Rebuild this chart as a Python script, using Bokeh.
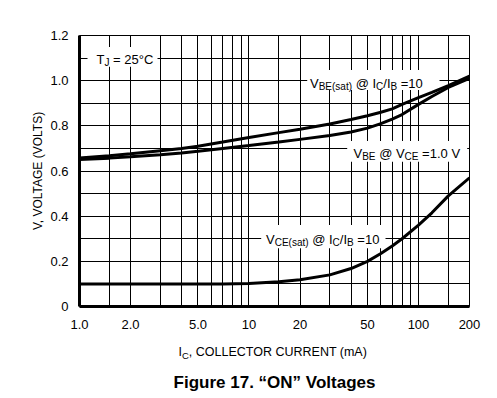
import numpy as np
from bokeh.plotting import figure
from bokeh.layouts import column
from bokeh.models import FixedTicker, Label, BoxAnnotation, Range1d
from bokeh.core.properties import value
from bokeh.embed import file_html
from bokeh.resources import INLINE

# ---------------- data ----------------
ic = [1, 1.5, 2, 3, 4, 5, 7, 10, 15, 20, 30, 40, 50, 60, 70, 80, 100, 120, 150, 200]
vbe_sat = [0.658, 0.668, 0.676, 0.690, 0.700, 0.710, 0.728, 0.748, 0.770, 0.785,
           0.808, 0.828, 0.845, 0.860, 0.875, 0.895, 0.925, 0.948, 0.978, 1.020]
vbe = [0.651, 0.657, 0.663, 0.672, 0.680, 0.687, 0.700, 0.713, 0.728, 0.740,
       0.757, 0.773, 0.790, 0.810, 0.830, 0.850, 0.895, 0.930, 0.970, 1.010]
vce_sat = [0.100, 0.100, 0.100, 0.100, 0.100, 0.100, 0.100, 0.102, 0.110, 0.118,
           0.140, 0.168, 0.200, 0.235, 0.268, 0.300, 0.360, 0.415, 0.490, 0.570]

x_ticks = [1, 2, 5, 10, 20, 50, 100, 200]
x_tick_labels = ["1.0", "2.0", "5.0", "10", "20", "50", "100", "200"]
x_grid = [1, 1.5, 2, 3, 4, 5, 6, 7, 8, 9, 10, 15, 20, 30, 40, 50, 60, 70, 80, 90, 100, 150, 200]
y_ticks = [0, 0.2, 0.4, 0.6, 0.8, 1.0, 1.2]
y_tick_labels = ["0", "0.2", "0.4", "0.6", "0.8", "1.0", "1.2"]
y_grid = [0, 0.1, 0.2, 0.3, 0.4, 0.5, 0.6, 0.7, 0.8, 0.9, 1.0, 1.1, 1.2]

# ---------------- layout ----------------
W = 490
BL, BT, FW, FH = 79, 35, 390, 274
BB = 22
H1 = BT + FH + BB          # main figure height (331)
H2 = 62                    # caption strip height
FONT = "Liberation Sans"

# Arial / Liberation Sans advance widths (per em) for laying out sub-scripted text
ADV = {" ": .278, "(": .333, ")": .333, ",": .278, ".": .278, "/": .278, "=": .584,
       "@": 1.015, "\u00b0": .400, "A": .667, "B": .667, "C": .722, "E": .667, "I": .278,
       "J": .500, "L": .556, "N": .722, "O": .778, "R": .722, "T": .611, "U": .722,
       "V": .667, "a": .556, "m": .833, "s": .500, "t": .278}


def tw(s, size):
    return sum(ADV.get(ch, .556) for ch in s) * size


p = figure(width=W, height=H1, x_axis_type="log",
           x_range=Range1d(1, 200), y_range=Range1d(0, 1.2),
           output_backend="svg", toolbar_location=None,
           min_border_left=BL, min_border_right=W - BL - FW,
           min_border_top=BT, min_border_bottom=BB)
p.background_fill_color = "white"
p.border_fill_color = "white"
p.outline_line_color = "black"
p.outline_line_width = 1

for ax in (p.xaxis[0], p.yaxis[0]):
    ax.axis_line_width = 3
    ax.axis_line_color = "black"
    ax.major_tick_line_color = None
    ax.minor_tick_line_color = None
    ax.major_label_text_font = FONT
    ax.major_label_text_font_size = "13px"
    ax.major_label_text_color = "black"

p.xaxis.ticker = FixedTicker(ticks=x_ticks)
p.xaxis.major_label_overrides = {t: l for t, l in zip(x_ticks, x_tick_labels)}
p.xaxis.major_label_standoff = 7
p.yaxis.ticker = FixedTicker(ticks=y_ticks)
p.yaxis.major_label_overrides = {t: l for t, l in zip(y_ticks, y_tick_labels)}
p.yaxis.major_label_standoff = 5
p.yaxis.axis_label = "V, VOLTAGE (VOLTS)"
p.yaxis.axis_label_text_font = FONT
p.yaxis.axis_label_text_font_size = "12px"
p.yaxis.axis_label_text_font_style = "normal"
p.yaxis.axis_label_text_color = "black"
p.yaxis.axis_label_standoff = 2

p.xgrid.ticker = FixedTicker(ticks=x_grid)
p.ygrid.ticker = FixedTicker(ticks=y_grid)
for g in (p.xgrid[0], p.ygrid[0]):
    g.grid_line_color = "black"
    g.grid_line_width = 1
    g.grid_line_alpha = 1

# page-pixel helpers (frame left / bottom on the page)
FL, FB = BL, BT + FH
LOGMAX = np.log10(200)


def px2x(px):
    return 10 ** ((px - FL) / FW * LOGMAX)


def py2y(py):
    return (FB - py) / FH * 1.2


def box(x0, x1, y0, y1):
    p.add_layout(BoxAnnotation(left=px2x(x0), right=px2x(x1), top=py2y(y0), bottom=py2y(y1),
                               fill_color="white", fill_alpha=1, line_alpha=0,
                               level="underlay"))


def rich(segs, x0, base, M, S, dsub=3):
    """segs: list of (text, is_sub); laid out left to right from page x0, baseline base."""
    x = x0
    for s, sub in segs:
        size = S if sub else M
        lead = len(s) - len(s.lstrip(" "))
        x += tw(" " * lead, size)
        s = s.lstrip(" ")
        p.add_layout(Label(x=1, y=0, x_offset=x - FL, y_offset=FB - (base + (dsub if sub else 0)),
                           text=s, text_font=FONT, text_font_size=f"{size}px",
                           text_color="black", text_align="left", text_baseline="alphabetic"))
        x += tw(s, size)


# white boxes behind the in-plot labels
box(87, 157, 46.7, 66.7)
box(306.7, 439, 70, 90)
box(346.7, 466.7, 141.7, 162.7)
box(260.7, 385, 226.7, 250)

# curves
p.line(ic, vbe_sat, line_color="black", line_width=3)
p.line(ic, vbe, line_color="black", line_width=3)
p.line(ic, vce_sat, line_color="black", line_width=3)

M, S = 13, 10
rich([("T", 0), ("J", 1), (" = 25\u00b0C", 0)], 96, 62.3, M, S)
rich([("V", 0), ("BE(sat)", 1), (" @ I", 0), ("C", 1), ("/I", 0), ("B", 1), (" =10", 0)],
     309.5, 85.7, M, S)
rich([("V", 0), ("BE", 1), (" @ V", 0), ("CE", 1), (" =1.0 V", 0)], 353, 156.3, M, S)
rich([("V", 0), ("CE(sat)", 1), (" @ I", 0), ("C", 1), ("/I", 0), ("B", 1), (" =10", 0)],
     265.5, 242.3, M, S)

# ---------------- caption strip (x axis title + figure caption) ----------------
# its frame is aligned by the column layout with the main frame: x data == page x
p2 = figure(width=W, height=H2, x_range=Range1d(BL, BL + FW), y_range=Range1d(H2, 0),
            output_backend="svg", toolbar_location=None,
            x_axis_location=None, y_axis_location=None,
            min_border_left=BL, min_border_right=W - BL - FW, min_border_top=0, min_border_bottom=0)
p2.xgrid.visible = False
p2.ygrid.visible = False
p2.outline_line_color = None
p2.background_fill_color = "white"
p2.border_fill_color = "white"

Y0 = H1  # page y of caption strip top
XL, XS = 12.5, 9.5
x0 = 178
p2.text(x=[x0], y=[351.7 - Y0], text=["I"], text_font=value(FONT), text_font_size=f"{XL}px",
        text_color="black", text_baseline="alphabetic", text_align="left")
p2.text(x=[x0 + tw("I", XL)], y=[354.7 - Y0], text=["C"], text_font=value(FONT),
        text_font_size=f"{XS}px", text_color="black", text_baseline="alphabetic", text_align="left")
p2.text(x=[x0 + tw("I", XL) + tw("C", XS)], y=[351.7 - Y0], text=[", COLLECTOR CURRENT (mA)"],
        text_font=value(FONT), text_font_size=f"{XL}px", text_color="black",
        text_baseline="alphabetic", text_align="left")
p2.text(x=[274], y=[381.7 - Y0], text=["Figure 17. \u201cON\u201d Voltages"], text_font=value(FONT),
        text_font_size="17px", text_font_style="bold", text_color="black",
        text_baseline="alphabetic", text_align="center")

layout = column(p, p2, spacing=0)
open("out.html", "w").write(file_html(layout, INLINE))
